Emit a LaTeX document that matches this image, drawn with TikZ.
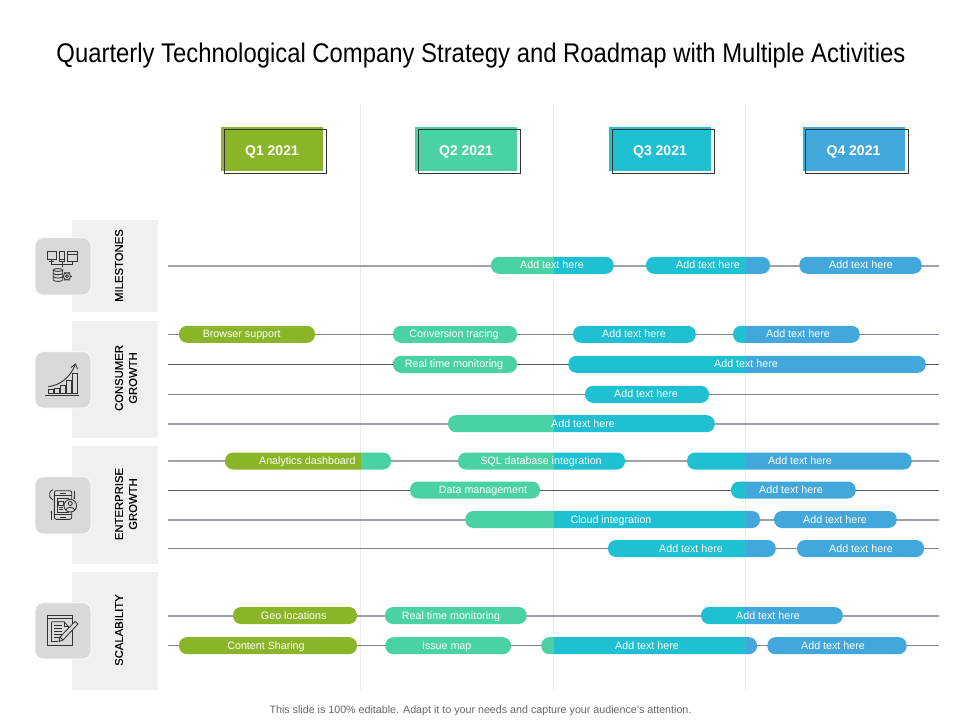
\documentclass[tikz,border=0pt]{standalone}
\usepackage{fontspec}
\setmainfont{Liberation Sans}
\newfontfamily\sidefont[FakeBold=0.35]{Liberation Sans}
\usetikzlibrary{positioning}

\definecolor{qonecol}{HTML}{8AB528}
\definecolor{qtwocol}{HTML}{4AD2A4}
\definecolor{qthreecol}{HTML}{1FC0D2}
\definecolor{qfourcol}{HTML}{42A8DC}
\definecolor{inkcol}{HTML}{333333}
\definecolor{rowlight}{HTML}{9DA1A9}
\definecolor{rowmid}{HTML}{7F8590}
\definecolor{rowdark}{HTML}{4F5864}

\tikzset{
  quarterfill/.style={minimum width=102pt,minimum height=44pt,inner sep=0pt,text=white,
    text height=10pt,text depth=0pt,font=\fontsize{14}{14}\selectfont\bfseries},
  quarterline/.style={draw=inkcol,line width=0.8pt},
  barlabel/.style={inner sep=0pt,text=white,text height=9.4pt,text depth=2.2pt,
    font=\fontsize{10.7}{11}\selectfont},
  gridline/.style={draw=black!8,line width=0.6pt},
  sidepanel/.style={fill=black!6,draw=none},
  sidelabel/.style={rotate=90,inner sep=0pt,align=center,text=black,
    font=\sidefont\fontsize{11.3}{14}\selectfont},
  icontile/.style={fill=black!15,draw=white,line width=0.8pt,rounded corners=8pt},
  iconink/.style={draw=inkcol,line width=0.85pt}
}

% bar on a row: name, y, left, right, label x, label
\newcommand{\roadbar}[6]{
  \begin{scope}
    \clip[rounded corners=8pt] (#3,#2-8.5) rectangle (#4,#2+8.5);
    \fill[qonecol] (160,#2-9) rectangle (360.5,#2+9);
    \fill[qtwocol] (360.5,#2-9) rectangle (553.5,#2+9);
    \fill[qthreecol] (553.5,#2-9) rectangle (745.5,#2+9);
    \fill[qfourcol] (745.5,#2-9) rectangle (950,#2+9);
  \end{scope}
  \node[barlabel] (#1) at (#5,#2) {#6};
}

\begin{document}
\begin{tikzpicture}[x=1pt,y=-1pt]
\useasboundingbox (0,0) rectangle (960,720);

% title and foot
\node[inner sep=0pt,anchor=base,font=\fontsize{27}{27}\selectfont] (title) at (481,62.7)
  {\scalebox{.884}[1]{Quarterly Technological Company Strategy and Roadmap with Multiple Activities}};
\node[inner sep=0pt,text=black!60,font=\fontsize{10.7}{10}\selectfont] (foot) at (480.5,710.5)
  {This slide is 100\% editable. Adapt it to your needs and capture your audience's attention.};

% quarter columns
\foreach \gridx [count=\gridi] in {360.5,553.5,745.5} {
  \coordinate (grida\gridi) at (\gridx,105);
  \coordinate (gridb\gridi) at (\gridx,690);
  \draw[gridline] (grida\gridi) -- (gridb\gridi);
}

% quarter heads
\foreach \qx/\qcol/\qname in {221/qonecol/Q1 2021,415/qtwocol/Q2 2021,609/qthreecol/Q3 2021,802.5/qfourcol/Q4 2021} {
  \fill[\qcol] (\qx,127) rectangle (\qx+102,171);
  \draw[quarterline] (\qx+3.3,129.3) rectangle (\qx+105.7,173.2);
  \node[quarterfill] (head\qx) at (\qx+51,150) {\qname};
}

% side panels
\fill[sidepanel] (72,220) rectangle (158,312);
\fill[sidepanel] (72,321) rectangle (158,438);
\fill[sidepanel] (72,446) rectangle (158,564);
\fill[sidepanel] (72,572) rectangle (158,690);
\node[sidelabel] (milestones) at (119,265.5) {MILESTONES};
\node[sidelabel] (consumer) at (126,378) {CONSUMER\\GROWTH};
\node[sidelabel] (enterprise) at (126,504) {ENTERPRISE\\GROWTH};
\node[sidelabel] (scalability) at (119,630) {SCALABILITY};

% icon tiles
\draw[icontile] (35,237.7) rectangle (91,295);
\draw[icontile] (35,351.7) rectangle (91,408);
\draw[icontile] (35,476.7) rectangle (91,534);
\draw[icontile] (35,602.7) rectangle (91,659);

% icon: screens and database
\draw[iconink] (47.3,251) rectangle (56,259);
\draw[iconink] (51.6,259) -- (51.6,261) (49.3,261) -- (54,261);
\draw[iconink] (59.3,251) rectangle (64.7,261);
\draw[iconink] (59.3,259) -- (64.7,259);
\draw[iconink] (67.3,251) rectangle (77.7,261);
\draw[iconink] (67.3,254) -- (77.7,254);
\draw[iconink] (51.6,261) -- (51.6,264) -- (72.5,264) -- (72.5,261);
\draw[iconink] (62,261) -- (62,267);
\draw[iconink] (53.3,270) -- (53.3,280) arc[start angle=180,end angle=360,x radius=4.7,y radius=-1.4]
  -- (62.7,270) arc[start angle=0,end angle=180,x radius=4.7,y radius=-1.4]
  arc[start angle=180,end angle=360,x radius=4.7,y radius=-1.4];
\draw[iconink] (53.3,273.3) arc[start angle=180,end angle=360,x radius=4.7,y radius=-1.4];
\draw[iconink] (53.3,276.6) arc[start angle=180,end angle=360,x radius=4.7,y radius=-1.4];
\draw[iconink,fill=black!15] (67,276.3) circle (3.6);
\draw[iconink] (67,276.3) circle (1.5);
\foreach \gearang in {0,60,...,300}
  \draw[iconink,line width=1.2pt] (67,276.3) ++(\gearang:3.6) -- ++(\gearang:1.2);

% icon: growth chart
\draw[iconink,line width=0.9pt] (45,395) -- (79,395);
\foreach \barx/\bary in {48.3/389.3,54.3/388,60.3/385,66.3/380,72.3/373.3}
  \draw[iconink] (\barx,\bary) rectangle (\barx+4.7,393.6);
\draw[iconink,line width=0.9pt] (48.3,386.7) .. controls (60,385) and (70,378) .. (75.3,364.5);
\draw[iconink,line width=0.9pt] (71,367.5) -- (75.5,364) -- (77.5,369);

% icon: phone and user
\draw[iconink,line width=0.9pt,rounded corners=2pt] (54.3,490.7) rectangle (71.7,519.3);
\draw[iconink] (54.3,495.5) -- (71.7,495.5) (54.3,514.5) -- (71.7,514.5);
\draw[iconink] (60,493) -- (66,493) (60,517) -- (66,517);
\draw[iconink] (57,498) rectangle (68,512);
\draw[iconink] (58.5,501) rectangle (63,505);
\draw[iconink] (58.5,507.5) -- (63,507.5) (58.5,509.5) -- (63,509.5);
\draw[iconink] (53,500) arc[start angle=110,end angle=250,radius=5.5];
\draw[iconink,fill=black!15] (70.3,505.7) circle (6.3);
\draw[iconink] (70.3,503.5) circle (2);
\draw[iconink] (65.8,510) .. controls (67,506.5) and (73.5,506.5) .. (74.8,510);
\draw[iconink] (74.3,490.5) -- (74.3,498);
\fill[inkcol] (74.3,498) circle (1);
\draw[iconink] (51.3,512) -- (51.3,519.5);
\fill[inkcol] (51.3,512) circle (1);

% icon: document and pen
\draw[iconink,line width=0.9pt] (47.3,615.3) rectangle (72.7,645.7);
\draw[iconink] (47.3,618.7) -- (72.7,618.7);
\draw[iconink] (51.7,621.7) -- (64,621.7) -- (68.5,626.5) -- (68.5,630);
\draw[iconink] (51.7,621.7) -- (51.7,641.7) -- (58,641.7);
\draw[iconink] (64,621.7) -- (64,626.5) -- (68.5,626.5);
\foreach \texty in {625,628,631,634,637}
  \draw[iconink] (54,\texty) -- (62,\texty);
\draw[iconink,fill=black!15,line join=round] (75,621.5) -- (78,624) -- (63,640) -- (59,641.5) -- (60,637) -- cycle;
\draw[iconink] (60,637) -- (63,640);

% rows
\foreach \rowy/\rowcol/\rowwd [count=\rowi] in {266/rowlight/2,334.7/rowmid/1.5,364.5/rowdark/1.1,394.3/rowmid/1.5,424/rowlight/2,
    461/rowlight/2,490.5/rowdark/1.1,520/rowlight/2,548.7/rowmid/1.5,616/rowlight/2,645.7/rowmid/1.5} {
  \coordinate (rowa\rowi) at (168,\rowy);
  \coordinate (rowb\rowi) at (939,\rowy);
  \draw[\rowcol,line width=\rowwd pt] (rowa\rowi) -- (rowb\rowi);
}

% milestones
\roadbar{ma}{265.3}{491}{613.7}{552}{Add text here}
\roadbar{mb}{265.3}{646}{770}{708}{Add text here}
\roadbar{mc}{265.3}{799.3}{921.7}{861}{Add text here}

% consumer growth
\roadbar{ca}{334.3}{179}{315}{241.7}{Browser support}
\roadbar{cb}{334.3}{393}{517}{454}{Conversion tracing}
\roadbar{cc}{334.3}{573}{695.7}{634}{Add text here}
\roadbar{cd}{334.3}{733}{859.7}{798}{Add text here}
\roadbar{ce}{364.3}{393}{517}{454}{Real time monitoring}
\roadbar{cf}{364.3}{568.3}{925.7}{746}{Add text here}
\roadbar{cg}{394.3}{585}{709}{646}{Add text here}
\roadbar{ch}{423.7}{448}{714.7}{583}{Add text here}

% enterprise growth
\roadbar{ea}{461}{225}{391}{307.3}{Analytics dashboard}
\roadbar{eb}{461}{458}{625}{541}{SQL database integration}
\roadbar{ec}{461}{687}{911.7}{800}{Add text here}
\roadbar{ed}{490}{410}{540}{483}{Data management}
\roadbar{ee}{490}{731}{855.7}{791}{Add text here}
\roadbar{ef}{519.5}{465.3}{760}{611}{Cloud integration}
\roadbar{eg}{519.5}{774}{896.7}{835}{Add text here}
\roadbar{eh}{548.5}{608}{775.7}{691}{Add text here}
\roadbar{ei}{548.5}{797}{924}{861}{Add text here}

% scalability
\roadbar{sa}{615.5}{233}{357}{293.7}{Geo locations}
\roadbar{sb}{615.5}{385}{526.7}{451}{Real time monitoring}
\roadbar{sc}{615.5}{701}{842.7}{768}{Add text here}
\roadbar{sd}{645.7}{179}{357}{266}{Content Sharing}
\roadbar{se}{645.7}{385.3}{511}{446.7}{Issue map}
\roadbar{sf}{645.7}{541.3}{757}{647}{Add text here}
\roadbar{sg}{645.7}{767.3}{906.7}{833}{Add text here}

\end{tikzpicture}
\end{document}
